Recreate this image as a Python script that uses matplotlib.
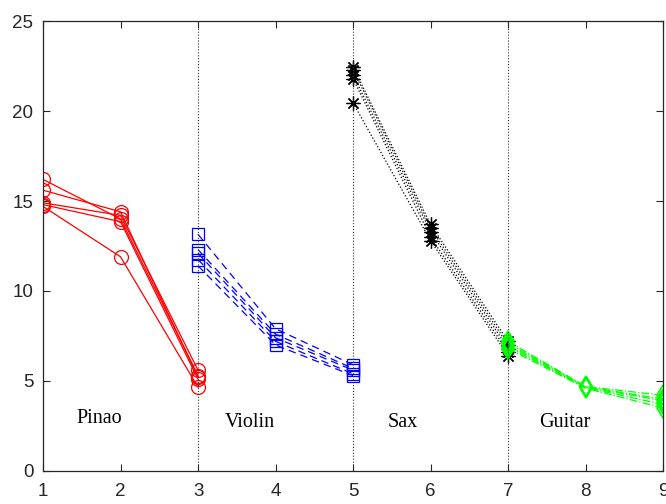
import matplotlib.pyplot as plt
import numpy as np

# instrument groups: x positions and 5 runs each
pinao_x = [1, 2, 3]
pinao_y = [[16.2, 14.0, 5.3],
           [15.6, 14.4, 5.2],
           [14.9, 14.2, 5.6],
           [14.8, 13.85, 5.1],
           [14.7, 11.9, 4.65]]

violin_x = [3, 4, 5]
violin_y = [[13.15, 7.9, 5.9],
            [12.3, 7.6, 5.7],
            [12.1, 7.4, 5.6],
            [11.75, 7.2, 5.4],
            [11.4, 7.0, 5.3]]

sax_x = [5, 6, 7]
sax_y = [[22.45, 13.7, 7.2],
         [22.3, 13.5, 7.0],
         [22.0, 13.3, 6.8],
         [21.8, 13.0, 6.6],
         [20.45, 12.8, 6.4]]

guitar_x = [7, 8, 9]
guitar_y = [[7.2, 4.7, 4.2],
            [7.1, 4.68, 4.0],
            [7.0, 4.66, 3.9],
            [6.9, 4.64, 3.7],
            [6.8, 4.6, 3.5]]

labels = ['Pinao', 'Violin', 'Sax', 'Guitar']
label_x = [1.73, 3.67, 5.64, 7.73]
label_y = [2.9, 2.7, 2.7, 2.7]
dividers = [3, 5, 7]

fig = plt.figure(figsize=(6.66, 5.04), dpi=100)
ax = fig.add_axes([0.0646, 0.0655, 0.931, 0.8928])

for y in pinao_y:
    ax.plot(pinao_x, y, 'r-o', lw=0.9, ms=10, mfc='none', mew=0.9)
for y in violin_y:
    ax.plot(violin_x, y, 'b--s', lw=0.9, ms=8, mfc='none', mew=0.9, dashes=(6, 4))
for y in sax_y:
    ax.plot(sax_x, y, 'k:', marker=(8, 2, 0), lw=0.9, ms=10, mew=0.9)
for y in guitar_y:
    ax.plot(guitar_x, y, '-.d', color=(0, 1, 0), lw=0.9, ms=10, mfc='none', mew=1.2)

for d in dividers:
    ax.plot([d, d], [0, 25], ':', color='0.2', lw=0.8)

for t, x, y in zip(labels, label_x, label_y):
    ax.text(x, y, t, family='Liberation Serif', fontsize=14.5, ha='center', va='center')

ax.set_xlim(1, 9)
ax.set_ylim(0, 25)
ax.set_xticks(range(1, 10))
ax.set_yticks(range(0, 26, 5))
ax.tick_params(direction='in', top=True, right=True, labelsize=13.5, colors='0.15', length=5)
ax.tick_params(axis='x', pad=9)
ax.tick_params(axis='y', pad=7)
for s in ax.spines.values():
    s.set_color('0.15')
    s.set_linewidth(0.9)
for lab in ax.get_xticklabels() + ax.get_yticklabels():
    lab.set_family('Liberation Sans')

fig.savefig('out.png', dpi=100)
